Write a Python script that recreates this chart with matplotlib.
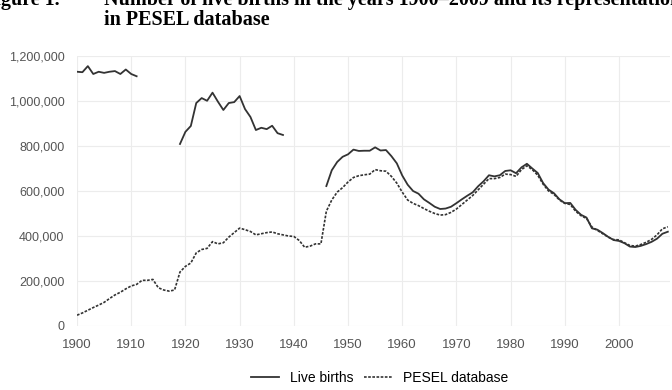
import numpy as np
import matplotlib
matplotlib.use("Agg")
import matplotlib.pyplot as plt
from matplotlib.ticker import FuncFormatter

# Live births, three periods with gaps (1912-1918, 1939-1945)
years_a = np.arange(1900, 1912)
births_a = [1130000, 1128000, 1155000, 1120000, 1130000, 1125000,
            1130000, 1133000, 1120000, 1140000, 1120000, 1110000]

years_b = np.arange(1919, 1939)
births_b = [809000, 863000, 889000, 991000, 1013000, 1001000, 1037000, 997000,
            960000, 991000, 995000, 1022000, 964000, 929000, 871000, 881000,
            875000, 890000, 857000, 849000]

years_c = np.arange(1946, 2010)
births_c = [622000, 692000, 729000, 752000, 763000, 784000, 778000, 779000,
            779000, 794000, 780000, 782000, 755000, 723000, 669000, 628000,
            600000, 588000, 563000, 547000, 530000, 520000, 522000, 530000,
            546000, 563000, 579000, 594000, 621000, 643000, 670000, 665000,
            670000, 689000, 692000, 679000, 705000, 721000, 700000, 680000,
            635000, 606000, 590000, 563000, 546000, 547000, 516000, 494000,
            482000, 434000, 428000, 413000, 396000, 382000, 378000, 368000,
            353000, 351000, 356000, 364000, 374000, 388000, 410000, 419000]

# Persons in PESEL database by year of birth
pesel_years = np.arange(1900, 2010)
pesel = [48000, 58000, 70000, 82000, 93000, 105000, 122000, 138000, 150000, 165000,
         178000, 185000, 203000, 203000, 207000, 170000, 160000, 155000, 160000, 240000,
         265000, 280000, 325000, 340000, 345000, 375000, 365000, 370000, 395000, 415000,
         435000, 428000, 420000, 405000, 410000, 415000, 418000, 410000, 405000, 400000,
         398000, 380000, 350000, 355000, 365000, 365000, 510000, 560000, 595000, 615000,
         640000, 660000, 668000, 672000, 675000, 695000, 690000, 688000, 665000, 635000,
         595000, 560000, 545000, 535000, 522000, 510000, 500000, 493000, 495000, 505000,
         520000, 540000, 560000, 580000, 605000, 630000, 655000, 655000, 660000, 675000,
         673000, 665000, 695000, 712000, 695000, 670000, 630000, 600000, 585000, 560000,
         545000, 540000, 510000, 490000, 478000, 440000, 425000, 410000, 395000, 384000,
         383000, 370000, 358000, 355000, 362000, 372000, 385000, 405000, 432000, 441000]

fig = plt.figure(figsize=(6.72, 3.9), dpi=100)
ax = fig.add_axes([77/672, 1 - 326/390, (670 - 77)/672, (326 - 56)/390])

col = "#333333"
ax.plot(years_a, births_a, color=col, lw=1.3, label="Live births")
ax.plot(years_b, births_b, color=col, lw=1.3)
ax.plot(years_c, births_c, color=col, lw=1.3)
ax.plot(pesel_years, pesel, color=col, lw=1.2, linestyle=(0, (1.6, 0.9)),
        label="PESEL database")

ax.set_xlim(1900, 2009.4)
ax.set_ylim(0, 1200000)
ax.set_xticks(range(1900, 2010, 10))
ax.set_yticks(range(0, 1200001, 200000))
ax.yaxis.set_major_formatter(FuncFormatter(lambda v, p: f"{int(v):,}"))
ax.grid(True, color="#ececec", lw=0.8)
ax.set_axisbelow(True)
for s in ax.spines.values():
    s.set_visible(False)
ax.tick_params(axis="y", length=0, labelsize=9, labelcolor="#555555", pad=9)
ax.tick_params(axis="x", length=0, labelsize=9.5, labelcolor="#555555", pad=9)
for t in ax.get_xticklabels() + ax.get_yticklabels():
    t.set_fontfamily("Liberation Sans")

fig.legend(loc="lower center", bbox_to_anchor=(0.565, -0.02), ncol=2, frameon=False,
           prop={"family": "Liberation Sans", "size": 10}, handlelength=2.0,
           columnspacing=0.8, handletextpad=0.8)

fig.text(60/672, 1 - 5/390, "Figure 1.", ha="right", va="baseline",
         family="Liberation Serif", weight="bold", size=14.5)
fig.text(104/672, 1 - 5/390,
         "Number of live births in the years 1900\u20132009 and its representation",
         ha="left", va="baseline", family="Liberation Serif", weight="bold", size=14.5)
fig.text(104/672, 1 - 25/390, "in PESEL database",
         ha="left", va="baseline", family="Liberation Serif", weight="bold", size=14.5)

fig.savefig("out.png", dpi=100)
